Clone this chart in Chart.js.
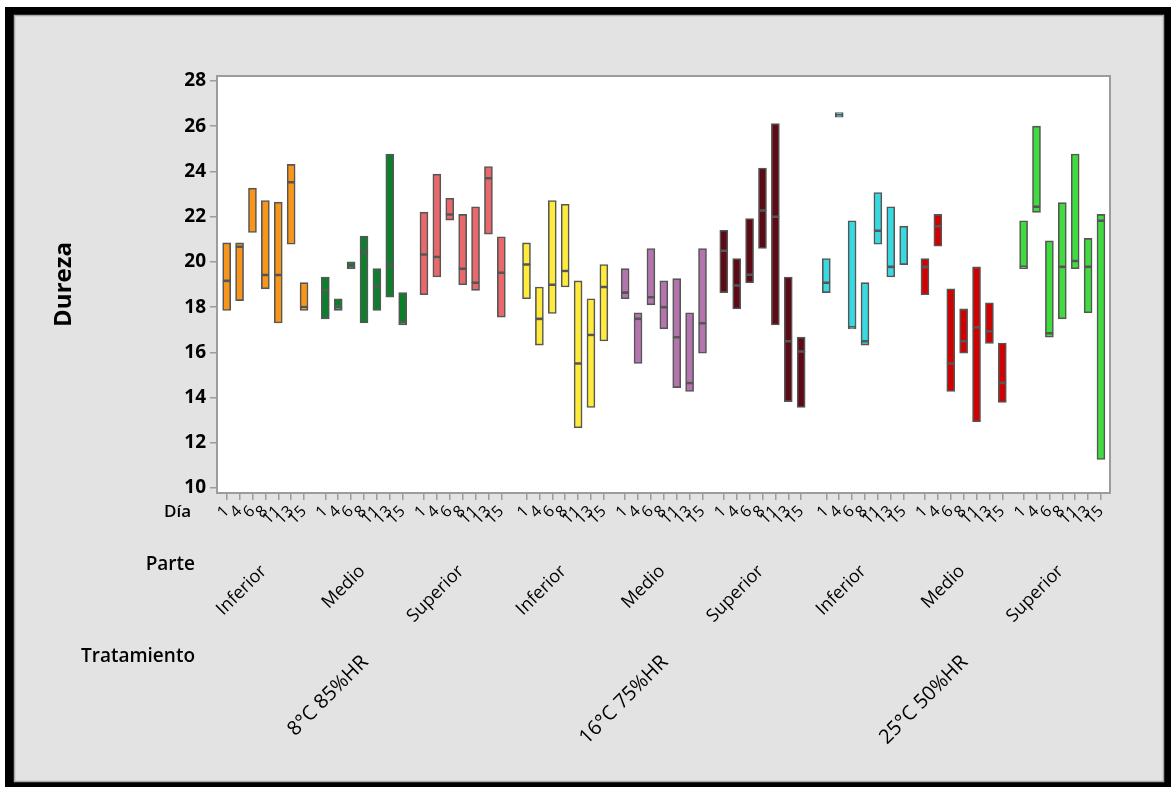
<!DOCTYPE html>
<html>
<head>
<meta charset="utf-8">
<script src="https://cdn.jsdelivr.net/npm/chart.js@4"></script>
<style>
  html, body { margin: 0; padding: 0; background: #fff; }
  #wrap { width: 1171px; height: 787px; }
</style>
</head>
<body>
<div id="wrap"><canvas id="c" width="1171" height="787"></canvas></div>
<script>
// Categorías del eje X (tres niveles anidados)
const dias = ['1', '4', '6', '8', '11', '13', '15'];
const partes = ['Inferior', 'Medio', 'Superior'];
const tratamientos = ['8°C 85%HR', '16°C 75%HR', '25°C 50%HR'];

// Dureza: mínimo, mediana y máximo por día (7 días × parte × tratamiento)
const minimos = [
  17.85, 18.29, 21.30, 18.81, 17.30, 20.78, 17.85,
  17.48, 17.85, 19.70, 17.30, 17.85, 18.44, 17.21,
  18.55, 19.33, 21.85, 18.99, 18.74, 21.23, 17.56,
  18.37, 16.32, 17.72, 18.89, 12.67, 13.56, 16.50,
  18.37, 15.51, 18.10, 17.04, 14.44, 14.27, 15.96,
  18.64, 17.92, 19.08, 20.59, 17.21, 13.82, 13.56,
  18.64, 26.40, 17.04, 16.32, 20.78, 19.33, 19.88,
  18.55, 20.69, 14.27, 15.96, 12.93, 16.40, 13.78,
  19.70, 22.19, 16.67, 17.48, 19.70, 17.75, 11.26
];
const medianas = [
  19.16, 20.67, 21.30, 19.42, 19.42, 23.52, 18.00,
  18.71, 18.00, 19.82, 20.41, 18.89, 19.85, 17.33,
  20.33, 20.22, 22.10, 19.70, 19.08, 23.70, 19.52,
  19.88, 17.48, 18.99, 19.60, 15.51, 16.77, 18.89,
  18.64, 17.48, 18.44, 18.00, 16.67, 14.64, 17.29,
  20.49, 18.96, 19.43, 22.27, 22.00, 16.49, 16.04,
  19.08, 26.50, 17.11, 16.49, 21.38, 19.78, 19.88,
  19.78, 21.58, 15.51, 16.49, 17.11, 16.93, 14.64,
  19.78, 22.44, 16.84, 19.78, 20.04, 19.78, 21.82
];
const maximos = [
  20.84, 20.84, 23.26, 22.71, 22.64, 24.31, 19.08,
  19.33, 18.37, 20.00, 21.14, 19.70, 24.77, 18.64,
  22.20, 23.88, 22.81, 22.10, 22.44, 24.22, 21.11,
  20.84, 18.89, 22.71, 22.55, 19.16, 18.37, 19.88,
  19.70, 17.75, 20.59, 19.16, 19.26, 17.75, 20.59,
  21.40, 20.15, 21.92, 24.15, 26.12, 19.33, 16.67,
  20.15, 26.60, 21.82, 19.08, 23.07, 22.44, 21.58,
  20.15, 22.10, 18.81, 17.92, 19.78, 18.19, 16.41,
  21.82, 26.00, 20.93, 22.62, 24.77, 21.04, 22.10
];

// Relleno de cada grupo Tratamiento × Parte
const coloresGrupo = [
  '#F7961A', '#0B7F2B', '#E8686B',
  '#FFEB3C', '#B474AE', '#5E0A16',
  '#38D9E1', '#D20000', '#3FDB3F'
];

const N = dias.length * partes.length * tratamientos.length;
const indices = Array.from({ length: N }, (_, i) => i);

// Posición en el eje: un hueco entre partes y uno algo mayor entre tratamientos
const PASO_PARTE = 7.65;
const PASO_TRAT = 2 * PASO_PARTE + 7.95;
function posicion(i) {
  const t = Math.floor(i / 21), p = Math.floor(i / 7) % 3, d = i % 7;
  return t * PASO_TRAT + p * PASO_PARTE + d;
}
function centroGrupo(g) {
  return (posicion(g * 7) + posicion(g * 7 + 6)) / 2;
}
function centroTrat(t) {
  return centroGrupo(t * 3 + 1);
}
const colorDe = i => coloresGrupo[Math.floor(i / 7)];

const X_MIN = -0.75, X_MAX = 68.5;
const GRIS_EJE = '#9c9c9c';
const BORDE_CAJA = '#565656';
const FAMILIA = "'Open Sans', 'Noto Sans', sans-serif";

Chart.defaults.font.family = FAMILIA;
Chart.defaults.color = '#000';

// Texto girado 45° cuyo extremo superior derecho queda en (x, y)
function textoGirado(c, texto, x, y) {
  c.save();
  c.translate(x, y);
  c.rotate(-Math.PI / 4);
  c.textAlign = 'right';
  c.textBaseline = 'top';
  c.fillText(texto, 0, 0);
  c.restore();
}

const marco = {
  id: 'marco',
  beforeDraw(chart) {
    const c = chart.ctx, a = chart.chartArea;
    c.save();
    c.fillStyle = '#ffffff';
    c.fillRect(0, 0, chart.width, chart.height);
    c.fillStyle = '#000000';
    c.fillRect(5, 7, chart.width - 5, chart.height - 7);
    c.fillStyle = '#e3e3e3';
    c.fillRect(14, 15, 1150, 767);
    c.strokeStyle = '#a8a8a8';
    c.lineWidth = 1.5;
    c.strokeRect(14.5, 15.5, 1149, 766);
    c.fillStyle = '#ffffff';
    c.fillRect(a.left, a.top, a.right - a.left, a.bottom - a.top);
    c.strokeStyle = GRIS_EJE;
    c.lineWidth = 2;
    c.strokeRect(a.left, a.top, a.right - a.left, a.bottom - a.top);
    c.restore();
  },
  afterDraw(chart) {
    const c = chart.ctx, sx = chart.scales.x;
    c.save();
    c.fillStyle = '#000';
    // Nombres de los niveles del eje
    c.textAlign = 'right';
    c.textBaseline = 'middle';
    c.font = '600 17px ' + FAMILIA;
    c.fillText('Día', 191, 512);
    c.font = '600 19px ' + FAMILIA;
    c.fillText('Parte', 195, 565);
    c.fillText('Tratamiento', 195, 657);
    // Etiquetas de Parte y Tratamiento en el centro de su grupo
    c.font = '18px ' + FAMILIA;
    for (let g = 0; g < partes.length * tratamientos.length; g++) {
      textoGirado(c, partes[g % 3], sx.getPixelForValue(centroGrupo(g)) - 8, 562);
    }
    c.font = '20px ' + FAMILIA;
    for (let t = 0; t < tratamientos.length; t++) {
      textoGirado(c, tratamientos[t], sx.getPixelForValue(centroTrat(t)) - 6, 652);
    }
    c.restore();
  }
};

const comunBarras = {
  borderColor: BORDE_CAJA,
  borderWidth: 1.6,
  borderSkipped: false,
  barThickness: 8,
  grouped: false
};

new Chart(document.getElementById('c'), {
  type: 'bar',
  data: {
    datasets: [
      Object.assign({
        label: 'Mínimo–mediana',
        data: indices.map(i => ({ x: posicion(i), y: [minimos[i], medianas[i]] })),
        backgroundColor: indices.map(colorDe)
      }, comunBarras),
      Object.assign({
        label: 'Mediana–máximo',
        data: indices.map(i => ({ x: posicion(i), y: [medianas[i], maximos[i]] })),
        backgroundColor: indices.map(colorDe)
      }, comunBarras)
    ]
  },
  options: {
    responsive: false,
    devicePixelRatio: 1,
    animation: false,
    layout: { padding: { left: 40, right: 61, top: 76, bottom: 256 }, autoPadding: false },
    plugins: { legend: { display: false }, tooltip: { enabled: false } },
    scales: {
      x: {
        type: 'linear', position: 'bottom',
        min: X_MIN, max: X_MAX, offset: false,
        afterBuildTicks: s => { s.ticks = indices.map(i => ({ value: posicion(i) })); },
        afterFit: s => { s.height = 38; },
        ticks: {
          autoSkip: false, minRotation: 45, maxRotation: 45,
          callback: (v, i) => dias[i % 7],
          font: { size: 16 }, padding: 2
        },
        grid: { offset: false, drawOnChartArea: false, drawTicks: true, tickLength: 7, color: GRIS_EJE, lineWidth: 1.5 },
        border: { color: GRIS_EJE, width: 2 }
      },
      y: {
        min: 9.78, max: 28.22,
        afterFit: s => { s.width = 177; },
        ticks: { stepSize: 2, includeBounds: false, font: { size: 19, weight: 'bold' }, padding: 4 },
        grid: { drawOnChartArea: false, drawTicks: true, tickLength: 7, color: GRIS_EJE, lineWidth: 1.5 },
        border: { color: GRIS_EJE, width: 2 },
        title: {
          display: true, text: 'Dureza',
          font: { size: 24, weight: 'bold' },
          padding: { top: 10, bottom: 0 }
        }
      }
    }
  },
  plugins: [marco]
});
</script>
</body>
</html>
